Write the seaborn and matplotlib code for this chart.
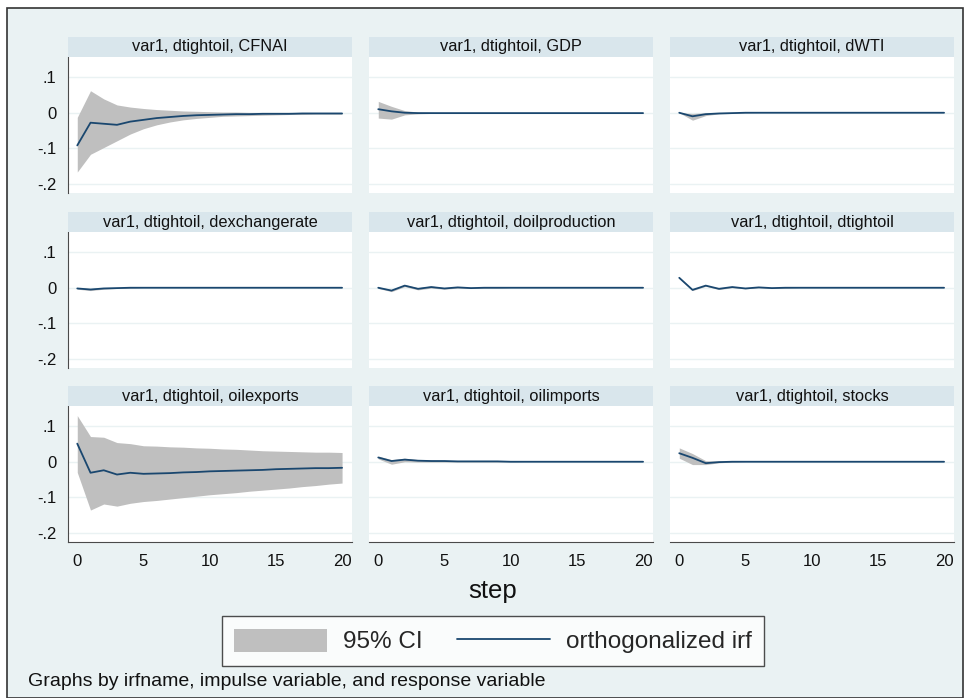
import matplotlib
matplotlib.use("Agg")
import matplotlib.pyplot as plt
from matplotlib.patches import Rectangle, Patch
from matplotlib.lines import Line2D
import seaborn as sns

sns.set_style("white")
plt.rcParams['font.family'] = ['Liberation Sans', 'DejaVu Sans']

# steps of the impulse response
steps = list(range(21))

titles = ["var1, dtightoil, CFNAI", "var1, dtightoil, GDP", "var1, dtightoil, dWTI",
          "var1, dtightoil, dexchangerate", "var1, dtightoil, doilproduction", "var1, dtightoil, dtightoil",
          "var1, dtightoil, oilexports", "var1, dtightoil, oilimports", "var1, dtightoil, stocks"]

# orthogonalized irf + 95% CI bounds
cfnai_irf = [-0.092, -0.028, -0.031, -0.034, -0.025, -0.020, -0.015, -0.012, -0.009, -0.007, -0.006,
             -0.005, -0.004, -0.004, -0.003, -0.003, -0.003, -0.002, -0.002, -0.002, -0.002]
cfnai_lo = [-0.167, -0.117, -0.098, -0.079, -0.060, -0.045, -0.034, -0.026, -0.020, -0.016, -0.013,
            -0.010, -0.009, -0.008, -0.007, -0.006, -0.005, -0.005, -0.004, -0.004, -0.004]
cfnai_hi = [-0.013, 0.062, 0.039, 0.022, 0.016, 0.012, 0.009, 0.007, 0.005, 0.004, 0.003,
            0.002, 0.002, 0.001, 0.001, 0.001, 0.001, 0.000, 0.000, 0.000, 0.000]

gdp_irf = [0.010, 0.004, 0.000, -0.001, -0.001, -0.001, -0.001, -0.001, -0.001, -0.001, -0.001,
           -0.001, -0.001, -0.001, -0.001, -0.001, -0.001, -0.001, -0.001, -0.001, -0.001]
gdp_lo = [-0.015, -0.018, -0.006, -0.003, -0.002, -0.002, -0.001, -0.001, -0.001, -0.001, -0.001,
          -0.001, -0.001, -0.001, -0.001, -0.001, -0.001, -0.001, -0.001, -0.001, -0.001]
gdp_hi = [0.032, 0.018, 0.006, 0.002, 0.001, 0.000, 0.000, 0.000, 0.000, 0.000, 0.000,
          0.000, 0.000, 0.000, 0.000, 0.000, 0.000, 0.000, 0.000, 0.000, 0.000]

dwti_irf = [0.000, -0.010, -0.004, -0.002, -0.001, 0.000, 0.000, 0.000, 0.000, 0.000, 0.000,
            0.000, 0.000, 0.000, 0.000, 0.000, 0.000, 0.000, 0.000, 0.000, 0.000]
dwti_lo = [0.000, -0.021, -0.008, -0.003, -0.002, -0.001, 0.000, 0.000, 0.000, 0.000, 0.000,
           0.000, 0.000, 0.000, 0.000, 0.000, 0.000, 0.000, 0.000, 0.000, 0.000]
dwti_hi = [0.000, -0.002, 0.000, 0.000, 0.000, 0.000, 0.000, 0.000, 0.000, 0.000, 0.000,
           0.000, 0.000, 0.000, 0.000, 0.000, 0.000, 0.000, 0.000, 0.000, 0.000]

dexch_irf = [-0.002, -0.005, -0.002, -0.001, 0.000, 0.000, 0.000, 0.000, 0.000, 0.000, 0.000,
             0.000, 0.000, 0.000, 0.000, 0.000, 0.000, 0.000, 0.000, 0.000, 0.000]
dexch_lo = [-0.004, -0.008, -0.004, -0.002, -0.001, 0.000, 0.000, 0.000, 0.000, 0.000, 0.000,
            0.000, 0.000, 0.000, 0.000, 0.000, 0.000, 0.000, 0.000, 0.000, 0.000]
dexch_hi = [0.000, -0.002, 0.000, 0.000, 0.001, 0.000, 0.000, 0.000, 0.000, 0.000, 0.000,
            0.000, 0.000, 0.000, 0.000, 0.000, 0.000, 0.000, 0.000, 0.000, 0.000]

doilp_irf = [0.000, -0.008, 0.006, -0.003, 0.002, -0.002, 0.001, -0.001, 0.000, 0.000, 0.000,
             0.000, 0.000, 0.000, 0.000, 0.000, 0.000, 0.000, 0.000, 0.000, 0.000]
doilp_lo = [-0.002, -0.011, 0.003, -0.006, -0.001, -0.004, -0.001, -0.002, -0.001, -0.001, 0.000,
            0.000, 0.000, 0.000, 0.000, 0.000, 0.000, 0.000, 0.000, 0.000, 0.000]
doilp_hi = [0.002, -0.005, 0.009, 0.000, 0.005, 0.000, 0.003, 0.001, 0.001, 0.001, 0.000,
            0.000, 0.000, 0.000, 0.000, 0.000, 0.000, 0.000, 0.000, 0.000, 0.000]

dtight_irf = [0.028, -0.006, 0.006, -0.003, 0.002, -0.002, 0.001, -0.001, 0.000, 0.000, 0.000,
              0.000, 0.000, 0.000, 0.000, 0.000, 0.000, 0.000, 0.000, 0.000, 0.000]
dtight_lo = [0.026, -0.008, 0.004, -0.005, 0.000, -0.003, 0.000, -0.002, -0.001, 0.000, 0.000,
             0.000, 0.000, 0.000, 0.000, 0.000, 0.000, 0.000, 0.000, 0.000, 0.000]
dtight_hi = [0.030, -0.004, 0.008, -0.001, 0.004, -0.001, 0.002, 0.000, 0.001, 0.000, 0.000,
             0.000, 0.000, 0.000, 0.000, 0.000, 0.000, 0.000, 0.000, 0.000, 0.000]

oilexp_irf = [0.051, -0.031, -0.024, -0.036, -0.031, -0.034, -0.033, -0.032, -0.030, -0.029, -0.027,
              -0.026, -0.025, -0.024, -0.023, -0.021, -0.020, -0.019, -0.018, -0.018, -0.017]
oilexp_lo = [-0.030, -0.136, -0.119, -0.125, -0.117, -0.112, -0.109, -0.105, -0.101, -0.097, -0.093,
             -0.090, -0.087, -0.083, -0.080, -0.077, -0.074, -0.070, -0.067, -0.063, -0.060]
oilexp_hi = [0.130, 0.071, 0.069, 0.054, 0.051, 0.045, 0.044, 0.042, 0.041, 0.039, 0.038,
             0.036, 0.035, 0.033, 0.031, 0.030, 0.029, 0.028, 0.027, 0.027, 0.026]

oilimp_irf = [0.012, 0.002, 0.006, 0.003, 0.002, 0.002, 0.001, 0.001, 0.001, 0.001, 0.000,
              0.000, 0.000, 0.000, 0.000, 0.000, 0.000, 0.000, 0.000, 0.000, 0.000]
oilimp_lo = [0.008, -0.007, 0.000, -0.001, -0.001, -0.001, -0.001, -0.001, -0.001, -0.001, 0.000,
             0.000, 0.000, 0.000, 0.000, 0.000, 0.000, 0.000, 0.000, 0.000, 0.000]
oilimp_hi = [0.016, 0.006, 0.010, 0.006, 0.005, 0.004, 0.003, 0.003, 0.003, 0.002, 0.001,
             0.000, 0.000, 0.000, 0.000, 0.000, 0.000, 0.000, 0.000, 0.000, 0.000]

stocks_irf = [0.024, 0.011, -0.004, -0.001, 0.000, 0.000, 0.000, 0.000, 0.000, 0.000, 0.000,
              0.000, 0.000, 0.000, 0.000, 0.000, 0.000, 0.000, 0.000, 0.000, 0.000]
stocks_lo = [0.010, -0.008, -0.008, -0.003, -0.001, 0.000, 0.000, 0.000, 0.000, 0.000, 0.000,
             0.000, 0.000, 0.000, 0.000, 0.000, 0.000, 0.000, 0.000, 0.000, 0.000]
stocks_hi = [0.039, 0.023, 0.003, 0.002, 0.001, 0.000, 0.000, 0.000, 0.000, 0.000, 0.000,
             0.000, 0.000, 0.000, 0.000, 0.000, 0.000, 0.000, 0.000, 0.000, 0.000]

series = [(cfnai_irf, cfnai_lo, cfnai_hi), (gdp_irf, gdp_lo, gdp_hi), (dwti_irf, dwti_lo, dwti_hi),
          (dexch_irf, dexch_lo, dexch_hi), (doilp_irf, doilp_lo, doilp_hi), (dtight_irf, dtight_lo, dtight_hi),
          (oilexp_irf, oilexp_lo, oilexp_hi), (oilimp_irf, oilimp_lo, oilimp_hi), (stocks_irf, stocks_lo, stocks_hi)]

yticks = [-0.2, -0.1, 0, 0.1]
ytick_labels = ["-.2", "-.1", "0", ".1"]
xticks = [0, 5, 10, 15, 20]

BG = "#EAF2F3"
STRIP = "#D9E6EC"
CI_COL = "#BFBFBF"
LINE_COL = "#1A476F"
AX_COL = "#4a4a4a"

W, H = 964, 698
fig = plt.figure(figsize=(W / 100, H / 100), dpi=100)
fig.patch.set_facecolor("white")
fig.add_artist(Rectangle((7 / W, 0), 956 / W, (H - 8) / H, transform=fig.transFigure,
                         facecolor=BG, edgecolor="#333333", lw=1.2, zorder=0))

lefts = [68, 369, 670]
tops = [57, 232, 406]
pw, ph, sh = 284, 136, 20

for i, (irf, lo, hi) in enumerate(series):
    r, c = divmod(i, 3)
    x0, y0 = lefts[c], tops[r]
    ax = fig.add_axes([x0 / W, 1 - (y0 + ph) / H, pw / W, ph / H])
    ax.set_facecolor("white")
    # strip header
    fig.add_artist(Rectangle((x0 / W, 1 - y0 / H), pw / W, sh / H, transform=fig.transFigure,
                             facecolor=STRIP, edgecolor="none", zorder=1))
    fig.text((x0 + pw / 2) / W, 1 - (y0 - sh / 2) / H, titles[i], ha="center", va="center",
             fontsize=11.8, color="#111111")

    ax.fill_between(steps, lo, hi, color=CI_COL, lw=0, zorder=2)
    sns.lineplot(x=steps, y=irf, ax=ax, color=LINE_COL, lw=1.3, zorder=3)

    ax.set_xlim(-0.7, 20.75)
    ax.set_ylim(-0.226, 0.157)
    ax.set_yticks(yticks)
    ax.set_xticks(xticks)
    for yv in yticks:
        ax.axhline(yv, color=BG, lw=1.0, zorder=1)
    for s in ax.spines.values():
        s.set_visible(False)
    ax.tick_params(axis="both", colors=AX_COL, labelcolor="#111111", labelsize=12,
                   length=5, width=1, direction="out")
    if c == 0:
        ax.spines["left"].set_visible(True)
        ax.spines["left"].set_color(AX_COL)
        ax.set_yticklabels(ytick_labels)
    else:
        ax.tick_params(axis="y", left=False, labelleft=False)
    if r == 2:
        ax.spines["bottom"].set_visible(True)
        ax.spines["bottom"].set_color(AX_COL)
    else:
        ax.tick_params(axis="x", bottom=False, labelbottom=False)
    ax.set_xlabel("")
    ax.set_ylabel("")

fig.text(493 / W, 1 - 591 / H, "step", ha="center", va="center", fontsize=18.5, color="#111111")

handles = [Patch(facecolor=CI_COL, edgecolor="none", label="95% CI"),
           Line2D([0], [0], color=LINE_COL, lw=1.3, label="orthogonalized irf")]
leg = fig.legend(handles=handles, loc="center", bbox_to_anchor=(493 / W, 1 - 641 / H), ncol=2,
                 fontsize=17.5, frameon=True, fancybox=False, handlelength=3.8, handleheight=1.1,
                 columnspacing=1.45, handletextpad=0.65, borderpad=0.5)
leg.get_frame().set_edgecolor("#222222")
leg.get_frame().set_linewidth(1.0)
leg.get_frame().set_facecolor("white")

fig.text(28 / W, 1 - 682 / H, "Graphs by irfname, impulse variable, and response variable",
         ha="left", va="center", fontsize=14, color="#111111")

fig.savefig("out.png", dpi=100)
